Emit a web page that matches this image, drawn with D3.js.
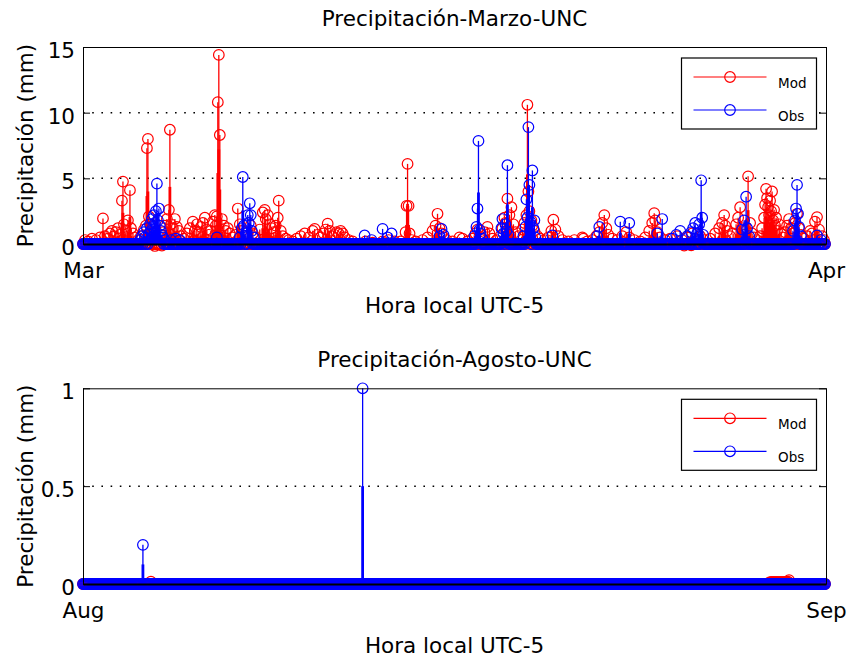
<!DOCTYPE html>
<html>
<head>
<meta charset="utf-8">
<script src="https://cdn.jsdelivr.net/npm/d3@7"></script>
<style>
  body { margin: 0; background: #fff; }
  svg { display: block; }
</style>
</head>
<body>
<svg id="chart" width="847" height="659"></svg>
<script>
// ---- Hourly precipitation (mm), UNC station. Hours counted from the first day 00:00;
// ---- every hour not listed is a dry hour (0 mm).

// March - model
const marchModHours = [2,5,9,13,17,20,22,25,27,29,31,33,35,37,39,40,41,43,45,47,48,50,52,55,58,
  61,63,64,65,66,68,70,72,77,79,80,82,84,86,87,88,90,92,94,96,98,101,104,107,110,112,114,116,118,120,
  122,124,126,128,130,132,133,134,135,136,137,139,141,143,145,147,150,153,155,157,159,162,165,168,170,
  173,177,180,182,183,185,187,189,191,193,195,196,198,200,203,206,210,214,218,222,226,230,232,235,238,
  241,243,245,247,249,252,254,256,258,260,262,266,270,283,290,300,306,312,318,323,324,325,326,327,329,
  333,340,345,350,353,355,357,359,361,364,370,377,380,385,390,393,395,397,399,402,405,407,410,414,418,
  420,422,423,425,427,429,431,433,436,440,442,444,445,446,447,449,450,452,455,458,462,466,469,471,473,
  476,480,486,492,500,501,505,510,514,517,520,522,524,526,530,535,540,544,547,552,558,563,567,570,572,
  573,575,578,583,588,595,600,602,605,609,610,613,618,622,628,633,637,640,642,643,645,648,651,654,656,
  658,660,662,664,666,668,670,672,675,678,680,682,683,684,685,686,687,688,689,690,691,692,693,694,695,
  697,699,701,703,705,707,709,711,713,715,717,719,722,725,728,730,733,735,737,740,742];
const marchModValues = [0.3,0.2,0.4,0.3,0.5,1.95,0.6,0.4,0.8,1.0,0.6,0.9,1.2,0.7,3.3,4.75,1.5,1.0,1.8,4.1,1.2,0.8,0.5,0.3,0.6,
  1.1,1.4,7.3,8.0,2.1,1.5,0.9,-0.15,0.5,-0.12,0.9,1.4,1.9,2.6,8.7,1.5,1.2,1.9,1.3,1.0,0.6,0.4,0.8,1.2,1.7,1.0,1.5,0.9,1.3,1.6,
  2.0,1.1,0.7,1.0,1.7,2.2,1.4,2.1,10.8,14.4,8.3,1.9,1.4,1.0,1.2,0.8,0.5,0.7,2.7,1.5,1.0,0.6,0.9,1.4,0.8,
  0.5,1.1,2.4,2.6,1.9,2.2,1.5,1.2,0.9,1.4,2.0,3.3,1.0,0.6,0.4,0.3,0.2,0.4,0.6,0.8,0.5,1.0,1.15,0.7,0.5,
  0.8,1.1,1.55,1.0,0.6,0.7,0.9,0.8,1.0,0.8,0.5,0.3,0.2,0.2,0.1,0.2,0.3,0.2,0.2,0.9,2.9,6.1,2.9,0.8,0.3,
  0.2,0.3,0.5,1.0,1.4,2.3,1.2,0.8,0.5,0.3,0.2,0.5,0.4,0.2,0.4,0.8,1.1,0.6,0.3,0.9,1.3,0.8,0.4,0.3,0.6,
  1.2,2.0,1.6,3.45,2.2,2.8,1.5,0.9,0.6,1.1,1.6,2.2,10.6,4.0,2.5,1.8,1.4,1.0,0.6,0.4,0.3,0.5,1.0,1.85,1.1,
  0.6,0.3,0.2,0.3,0.5,0.4,0.2,0.3,0.6,0.9,1.6,2.2,1.2,0.7,0.4,0.3,0.6,0.9,0.5,0.3,0.2,0.5,1.0,1.6,2.35,
  1.8,0.9,0.5,0.3,0.4,0.6,0.3,-0.12,0.5,-0.1,0.8,0.4,0.6,0.3,0.4,0.8,1.2,1.6,2.2,1.4,1.0,0.6,0.8,1.5,2.0,
  2.8,1.2,0.7,1.0,5.15,1.6,0.8,0.5,0.3,0.6,1.2,2.0,3.0,4.2,3.5,2.8,2.2,3.3,2.5,4.0,1.8,2.6,1.4,2.0,1.0,
  1.5,0.8,0.5,0.9,1.4,1.9,1.2,0.8,1.6,2.3,1.2,0.7,0.4,0.6,1.0,0.8,1.7,2.05,1.1,0.6,0.3];

// March - observed
const marchObsHours = [57,59,61,62,64,66,67,68,69,70,71,72,73,74,75,76,77,78,79,80,82,88,93,97,134,
  157,159,160,161,163,165,166,167,168,169,171,282,289,300,305,309,357,359,361,
  392,394,395,396,397,398,400,419,420,421,423,424,425,426,
  441,443,444,445,446,447,448,450,451,452,453,470,515,517,538,547,575,580,590,594,598,
  605,609,611,613,615,617,619,620,621,660,662,664,665,667,711,713,714,715,716,717,719,735,739];
const marchObsValues = [0.3,0.6,0.9,0.5,1.2,0.8,1.5,1.0,1.9,1.3,2.2,1.6,2.5,4.6,1.8,2.7,1.4,1.0,0.7,0.5,0.3,0.3,0.4,0.3,0.5,
  0.5,1.2,5.1,1.4,0.8,2.2,1.6,3.1,2.2,1.0,0.5,0.65,0.3,1.15,0.5,0.8,0.6,1.15,0.7,
  0.6,1.3,2.7,7.85,1.1,0.8,0.4,1.2,1.9,0.8,1.5,1.0,6.0,0.7,
  0.6,1.3,3.4,2.0,8.9,4.5,1.7,5.6,1.2,1.8,0.5,0.65,0.6,1.3,1.7,1.6,0.8,1.9,0.4,0.7,1.0,
  0.6,0.9,1.2,1.6,0.8,1.5,4.85,2.0,0.7,1.1,1.8,3.6,1.2,0.6,1.0,1.8,2.7,4.5,2.3,1.3,0.6,0.65,0.3];

// August - model
const augustModHours = [68,688,689,690,691,692,693,694,695,696,697,698,699,700,701,702,703,704,705,706,707];
const augustModValues = [0.012,0.01,0.01,0.01,0.01,0.01,0.01,0.01,0.01,0.01,0.01,0.01,0.01,0.01,0.01,0.01,0.01,0.01,0.01,0.012,0.02];

// August - observed
const augustObsHours = [60,280];
const augustObsValues = [0.2,1.0];

const marchYTicks = [0, 5, 10, 15];
const marchYTickLabels = ["0", "5", "10", "15"];
const augustYTicks = [0, 0.5, 1];
const augustYTickLabels = ["0", "0.5", "1"];
const marchXTickLabels = ["Mar", "Apr"];
const augustXTickLabels = ["Aug", "Sep"];
const seriesNames = ["Mod", "Obs"];
const seriesColors = ["#ff0000", "#0000ff"];

const FONT = "'DejaVu Sans', Verdana, sans-serif";
const svg = d3.select("#chart");
const LEFT = 83, RIGHT = 826;

function drawPanel(p) {
  const g = svg.append("g");
  const x = d3.scaleUtc().domain([p.start, p.end]).range([LEFT, RIGHT]);
  const y = d3.scaleLinear().domain([p.yTicks[0], p.yTicks[p.yTicks.length - 1]]).range([p.y0, p.yTop]);
  const nHours = d3.utcHour.count(p.start, p.end);

  // dotted grid on the inner y ticks
  const inner = p.yTicks.slice(1, -1);
  g.append("g").selectAll("line").data(inner).join("line")
    .attr("x1", LEFT).attr("x2", RIGHT)
    .attr("y1", d => y(d)).attr("y2", d => y(d))
    .attr("stroke", "#000").attr("stroke-width", 1.5)
    .attr("stroke-dasharray", "1.6,7.6");

  // stem series: Mod first, Obs drawn over it
  p.series.forEach((s, i) => {
    const byHour = new Map(s.hours.map((h, k) => [h, s.values[k]]));
    const data = d3.range(nHours).map(h => ({ t: d3.utcHour.offset(p.start, h), v: byHour.get(h) ?? 0 }));
    const wet = data.filter(d => d.v !== 0);
    const color = seriesColors[i];
    const sg = g.append("g");
    sg.selectAll("line.stem").data(wet).join("line").attr("class", "stem")
      .attr("x1", d => x(d.t)).attr("x2", d => x(d.t))
      .attr("y1", y(0)).attr("y2", d => y(d.v))
      .attr("stroke", color).attr("stroke-width", 1.3);
    sg.selectAll("line.stemlow").data(wet).join("line").attr("class", "stemlow")
      .attr("x1", d => x(d.t)).attr("x2", d => x(d.t))
      .attr("y1", y(0)).attr("y2", d => y(d.v / 2))
      .attr("stroke", color).attr("stroke-width", 2.8);
    sg.selectAll("circle").data(data).join("circle")
      .attr("cx", d => x(d.t)).attr("cy", d => y(d.v)).attr("r", 5.3)
      .attr("fill", "none").attr("stroke", color).attr("stroke-width", 1.2);
  });

  const styleAxis = a => a.attr("font-family", FONT).attr("font-size", 21.5)
    .call(s => s.selectAll("text").attr("fill", "#000"));

  // box + ticks
  g.append("g").attr("transform", `translate(${LEFT},0)`)
    .call(d3.axisLeft(y).tickValues(p.yTicks).tickFormat((d, i) => p.yLabels[i])
      .tickSizeInner(-7).tickSizeOuter(0).tickPadding(8))
    .call(styleAxis)
    .call(a => a.selectAll("text").attr("dy", "0.49em"));
  g.append("g").attr("transform", `translate(${RIGHT},0)`)
    .call(d3.axisRight(y).tickValues(p.yTicks).tickFormat("").tickSizeInner(-7).tickSizeOuter(0));
  g.append("g").attr("transform", `translate(0,${p.yTop})`)
    .call(d3.axisTop(x).tickValues([p.start, p.end]).tickFormat("").tickSizeInner(-7).tickSizeOuter(0));
  g.append("g").attr("transform", `translate(0,${p.y0})`)
    .call(d3.axisBottom(x).tickValues([p.start, p.end]).tickFormat((d, i) => p.xLabels[i])
      .tickSizeInner(-7).tickSizeOuter(0).tickPadding(18.5))
    .call(styleAxis)
    .call(a => a.select(".domain").attr("stroke-width", 2));

  const cx = (LEFT + RIGHT) / 2;
  g.append("text").attr("x", cx).attr("y", p.yTop - 21.5)
    .attr("text-anchor", "middle").attr("font-family", FONT).attr("font-size", 21.5)
    .text(p.title);
  g.append("text").attr("x", cx).attr("y", p.y0 + 68.5)
    .attr("text-anchor", "middle").attr("font-family", FONT).attr("font-size", 21.5)
    .text("Hora local UTC-5");
  g.append("text")
    .attr("transform", `translate(33,${(p.y0 + p.yTop) / 2}) rotate(-90)`)
    .attr("text-anchor", "middle").attr("font-family", FONT).attr("font-size", 21.5)
    .text("Precipitación (mm)");

  // legend
  const lg = g.append("g").attr("transform", `translate(681.5,${p.yTop + 11})`);
  lg.append("rect").attr("width", 135).attr("height", 71)
    .attr("fill", "#fff").attr("stroke", "#000").attr("stroke-width", 1.2);
  seriesNames.forEach((name, i) => {
    const ly = 19 + i * 33;
    lg.append("line").attr("x1", 12).attr("x2", 85).attr("y1", ly).attr("y2", ly)
      .attr("stroke", seriesColors[i]).attr("stroke-width", 1.2);
    lg.append("circle").attr("cx", 48.5).attr("cy", ly).attr("r", 5.3)
      .attr("fill", "none").attr("stroke", seriesColors[i]).attr("stroke-width", 1.2);
    lg.append("text").attr("x", 96.5).attr("y", ly + 10.5)
      .attr("font-family", FONT).attr("font-size", 13.5).text(name);
  });
}

drawPanel({
  title: "Precipitación-Marzo-UNC",
  start: new Date(Date.UTC(2014, 2, 1)), end: new Date(Date.UTC(2014, 3, 1)),
  y0: 244, yTop: 47,
  yTicks: marchYTicks, yLabels: marchYTickLabels, xLabels: marchXTickLabels,
  series: [
    { hours: marchModHours, values: marchModValues },
    { hours: marchObsHours, values: marchObsValues }
  ]
});

drawPanel({
  title: "Precipitación-Agosto-UNC",
  start: new Date(Date.UTC(2014, 7, 1)), end: new Date(Date.UTC(2014, 8, 1)),
  y0: 584, yTop: 388.3,
  yTicks: augustYTicks, yLabels: augustYTickLabels, xLabels: augustXTickLabels,
  series: [
    { hours: augustModHours, values: augustModValues },
    { hours: augustObsHours, values: augustObsValues }
  ]
});
</script>
</body>
</html>
